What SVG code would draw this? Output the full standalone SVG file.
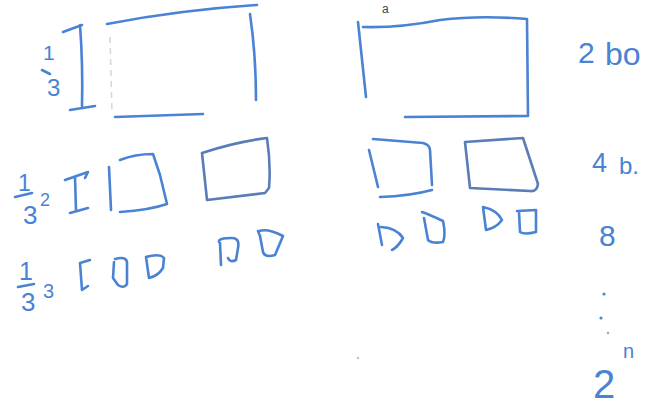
<svg xmlns="http://www.w3.org/2000/svg" width="645" height="405" viewBox="0 0 645 405">
<style>
.s{fill:none;stroke:#4a82d4;stroke-width:2.6;stroke-linecap:round;stroke-linejoin:round}
.d{fill:none;stroke:#5a7cb8;stroke-width:2.6;stroke-linecap:round;stroke-linejoin:round}
.f{fill:none;stroke:#d6d6d6;stroke-width:1.5;stroke-dasharray:6 5}
.t{fill:#4a82d4;font-family:"Liberation Sans",Arial,sans-serif}
</style>
<rect width="645" height="405" fill="#ffffff"/>
<!-- row 1 labels -->
<text class="t" x="43" y="60" font-size="21">1</text>
<path class="s" d="M42 70 L50 74"/>
<text class="t" x="47" y="96" font-size="24">3</text>
<path class="s" d="M80 25 Q83 65 82 106 M63 32 L82 25 M70 110 L95 106"/>
<!-- big rect left -->
<path class="s" d="M107 24 Q180 10 257 5 M250 14 Q256 55 256 100 M115 117 L203 114"/>
<path class="f" d="M110 37 L112 112"/>
<!-- big rect right -->
<text x="382" y="13" font-size="12" fill="#444" font-family="Liberation Sans,Arial,sans-serif">a</text>
<path class="s" d="M363 27 Q400 28 440 20 Q480 15 527 19 L528 116 L405 117 M358 22 Q362 60 366 97"/>
<text class="t" x="578" y="63" font-size="30">2</text>
<text class="t" x="605" y="65" font-size="32">bo</text>
<!-- row 2 labels -->
<text class="t" x="18" y="191" font-size="23">1</text>
<path class="s" d="M15 197 L32 193"/>
<text class="t" x="23" y="224" font-size="26">3</text>
<text class="t" x="40" y="206" font-size="18">2</text>
<path class="s" d="M75 177 L76 210 M65 180 L88 172 L85 178 M70 213 L88 208"/>
<!-- row 2 boxes -->
<path class="s" d="M109 167 L111 210"/>
<path class="s" d="M120 160 Q135 154 153 154 L160 175 L167 204 Q150 210 120 212"/>
<path class="d" d="M202 153 Q235 142 267 138 Q271 165 269 188 L265 193 L207 200 L202 153"/>
<path class="s" d="M369 150 L378 187 M373 139 L423 143 Q430 145 430 150 L432 185 M432 190 Q410 196 380 197"/>
<path class="d" d="M465 142 L523 138 L538 184 Q537 192 530 191 L470 188 L465 142"/>
<text class="t" x="592" y="172" font-size="27">4</text>
<text class="t" x="619" y="174" font-size="24">b.</text>
<!-- row 3 labels -->
<text class="t" x="19" y="280" font-size="25">1</text>
<path class="s" d="M18 287 L34 284"/>
<text class="t" x="21" y="311" font-size="26">3</text>
<text class="t" x="43" y="298" font-size="20">3</text>
<path class="s" d="M80 263 L90 260 M80 263 L82 290 L88 286"/>
<!-- row 3 boxes -->
<path class="s" d="M115 259 Q126 256 127 262 L127 284 Q124 289 118 285 L113 278 L114 262"/>
<path class="s" d="M146 257 Q160 253 164 258 L163 268 Q158 276 149 278 L146 257"/>
<path class="s" d="M219 242 Q218 238 232 238 Q240 238 238 248 L236 260 Q230 263 228 258 M220 243 L221 265"/>
<path class="s" d="M259 231 Q268 228 283 236 L275 255 Q265 258 263 252 L260 236 L258 231"/>
<path class="s" d="M378 224 L382 245 M381 227 Q397 228 403 238 Q398 247 392 250"/>
<path class="s" d="M422 212 Q428 214 443 221 Q446 235 443 242 Q432 244 428 240 L424 218"/>
<path class="s" d="M483 207 Q497 210 502 220 Q496 228 486 230 L483 207"/>
<path class="s" d="M517 211 L536 210 L536 232 Q524 235 520 232 L519 212"/>
<text class="t" x="599" y="246" font-size="30">8</text>
<!-- ellipsis -->
<circle cx="604" cy="294" r="1.6" fill="#4a82d4"/>
<circle cx="601" cy="318" r="1.6" fill="#4a82d4"/>
<circle cx="608" cy="333" r="1.3" fill="#aaaaaa"/>
<circle cx="358" cy="358" r="1.3" fill="#c8c8c8"/>
<text class="t" x="623" y="358" font-size="20">n</text>
<text class="t" x="593" y="398" font-size="40">2</text>
</svg>
